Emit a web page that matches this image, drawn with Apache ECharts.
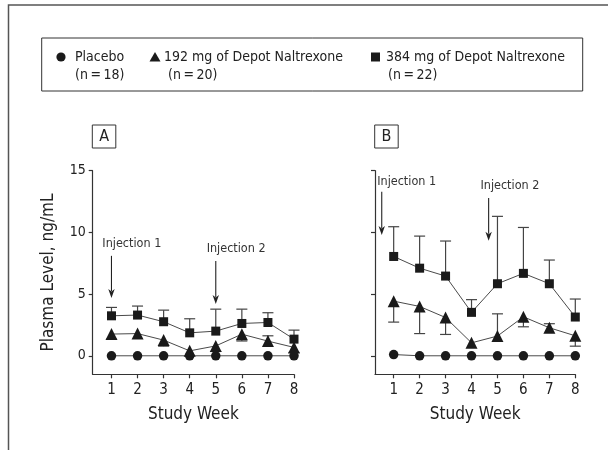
<!DOCTYPE html>
<html><head><meta charset="utf-8">
<script src="https://cdn.jsdelivr.net/npm/echarts@6/dist/echarts.min.js"></script>
<style>html,body{margin:0;padding:0;background:#fff}#c{width:608px;height:450px}</style>
</head><body><div id="c"></div>
<script>
const FONT = "'Liberation Sans Narrow','Arial Narrow','DejaVu Sans Condensed',sans-serif";
const weeks = [1, 2, 3, 4, 5, 6, 7, 8];
const yTicks = [0, 5, 10, 15];
const seriesNames = ['Placebo', '192 mg of Depot Naltrexone', '384 mg of Depot Naltrexone'];
const seriesN = ['(n\u2009=\u200918)', '(n\u2009=\u200920)', '(n\u2009=\u200922)'];
const panelLabels = ['A', 'B'];
// Panel A
const placeboA = [0, 0, 0, 0, 0, 0, 0, 0];
const lowA = [1.76, 1.8, 1.27, 0.4, 0.8, 1.75, 1.19, 0.68];
const lowErrEndA = [1.35, null, 0.78, null, 0.35, 1.2, 1.62, 0.27];
const highA = [3.24, 3.3, 2.76, 1.86, 2.0, 2.62, 2.7, 1.35];
const highErrEndA = [3.92, 4.03, 3.7, 3.0, 3.78, 3.78, 3.49, 2.08];
// Panel B
const placeboB = [0.1, 0, 0, 0, 0, 0, 0, 0];
const lowB = [4.43, 4.0, 3.1, 1.05, 1.6, 3.16, 2.27, 1.62];
const lowErrEndB = [2.73, 1.8, 1.73, null, 3.4, 2.35, 2.6, 0.78];
const highB = [8.05, 7.1, 6.46, 3.52, 5.84, 6.68, 5.84, 3.14];
const highErrEndB = [10.46, 9.7, 9.3, 4.55, 11.3, 10.4, 7.76, 4.6];
// Injection annotations: [arrow x, arrow top y, arrow tip y, label centre x, label centre y]
const injA = [[1, 8.1, 4.68, 1.78, 9.06], [5, 7.68, 4.19, 5.78, 8.65]];
const injB = [[0.54, 13.3, 9.79, 1.5, 14.11], [4.66, 12.79, 9.33, 5.48, 13.76]];
const injLabels = ['Injection 1', 'Injection 2'];

const symbols = ['circle', 'triangle', 'rect'];
const symSizes = [9.5, 12, 9];
const MARK = '#1a1a1a', LINE = '#4a4a4a', AX = '#333';

function pairs(ys) { return weeks.map((w, i) => [w, ys[i]]); }
function errData(ys, ends) {
  const out = [];
  weeks.forEach((w, i) => { if (ends[i] != null) out.push([w, ys[i], ends[i]]); });
  return out;
}
function errItem(params, api) {
  const x = api.value(0), m = api.value(1), e = api.value(2);
  const p0 = api.coord([x, m]), p1 = api.coord([x, e]);
  const hw = 5.5;
  const st = { stroke: '#444', lineWidth: 1.2 };
  return { type: 'group', children: [
    { type: 'line', shape: { x1: p0[0], y1: p0[1], x2: p1[0], y2: p1[1] }, style: st },
    { type: 'line', shape: { x1: p1[0] - hw, y1: p1[1], x2: p1[0] + hw, y2: p1[1] }, style: st }
  ]};
}
function injItem(params, api) {
  const x = api.value(0), y1 = api.value(1), y2 = api.value(2), lx = api.value(3), ly = api.value(4);
  const a = api.coord([x, y1]), b = api.coord([x, y2]), l = api.coord([lx, ly]);
  const hw = 3.2, hh = 9;
  return { type: 'group', children: [
    { type: 'line', shape: { x1: a[0], y1: a[1], x2: b[0], y2: b[1] - hh + 2 }, style: { stroke: '#222', lineWidth: 1.1 } },
    { type: 'polygon', shape: { points: [[b[0], b[1]], [b[0] - hw, b[1] - hh], [b[0], b[1] - hh + 2.5], [b[0] + hw, b[1] - hh]] }, style: { fill: '#222' } },
    { type: 'text', x: l[0], y: l[1], style: { text: injLabels[params.dataIndex], fontSize: 12.5, fontFamily: FONT, fill: '#333', align: 'center', verticalAlign: 'middle' } }
  ]};
}
function lineSeries(idx, k, ys) {
  return { type: 'line', xAxisIndex: idx, yAxisIndex: idx, data: pairs(ys), symbol: symbols[k],
    symbolSize: symSizes[k], showSymbol: true, silent: true, z: 5,
    lineStyle: { color: LINE, width: 1 }, itemStyle: { color: MARK, opacity: 1 } };
}
function errSeries(idx, ys, ends) {
  return { type: 'custom', xAxisIndex: idx, yAxisIndex: idx, data: errData(ys, ends),
    renderItem: errItem, silent: true, z: 3 };
}
function injSeries(idx, inj) {
  return { type: 'custom', xAxisIndex: idx, yAxisIndex: idx, data: inj, renderItem: injItem, silent: true, z: 6 };
}
const grids = [
  { left: 92.7, top: 170.7, width: 201.3, height: 203.6 },
  { left: 375, top: 170.7, width: 200.3, height: 203.6 }
];
const xAxes = grids.map((g, i) => ({ type: 'value', gridIndex: i, min: 0.28, max: 8,
  name: 'Study Week', nameLocation: 'middle', nameGap: 32,
  nameTextStyle: { fontSize: 17, color: '#222', fontFamily: FONT },
  axisLine: { show: true, onZero: false, lineStyle: { color: AX, width: 1.2 } },
  axisTick: { show: true, length: 4, customValues: weeks, lineStyle: { color: AX, width: 1.2 } },
  axisLabel: { customValues: weeks, fontSize: 15, color: '#222', margin: 8, fontFamily: FONT },
  splitLine: { show: false } }));
const yAxes = grids.map((g, i) => ({ type: 'value', gridIndex: i, min: -1.5, max: 15,
  name: i === 0 ? 'Plasma Level, ng/mL' : '', nameLocation: 'middle', nameGap: 36,
  nameTextStyle: { fontSize: 17, color: '#222', fontFamily: FONT },
  axisLine: { show: true, onZero: false, lineStyle: { color: AX, width: 1.2 } },
  axisTick: { show: true, length: 4, customValues: yTicks, lineStyle: { color: AX, width: 1.2 } },
  axisLabel: { show: i === 0, customValues: yTicks, fontSize: 14, color: '#222', margin: 7, fontFamily: FONT },
  splitLine: { show: false } }));

const series = [
  errSeries(0, lowA, lowErrEndA), errSeries(0, highA, highErrEndA),
  lineSeries(0, 0, placeboA), lineSeries(0, 1, lowA), lineSeries(0, 2, highA), injSeries(0, injA),
  errSeries(1, lowB, lowErrEndB), errSeries(1, highB, highErrEndB),
  lineSeries(1, 0, placeboB), lineSeries(1, 1, lowB), lineSeries(1, 2, highB), injSeries(1, injB)
];

// Legend & frame graphics
const legX = [[61, 75, 75], [155, 164, 168], [375.5, 386, 388]];
const graphic = [
  { type: 'polyline', shape: { points: [[8.5, 450], [8.5, 5], [608, 5]] }, style: { stroke: '#555', lineWidth: 1.5, fill: null } },
  { type: 'rect', shape: { x: 41.7, y: 38, width: 541, height: 53 }, style: { stroke: '#333', lineWidth: 1, fill: null } }
];
const legRow1 = 57, legRow2 = 75;
symbols.forEach((s, k) => {
  const cx = legX[k][0];
  if (s === 'circle') graphic.push({ type: 'circle', shape: { cx: cx, cy: legRow1, r: 4.6 }, style: { fill: MARK } });
  else if (s === 'triangle') graphic.push({ type: 'polygon', shape: { points: [[cx, legRow1 - 5], [cx - 5.5, legRow1 + 4.5], [cx + 5.5, legRow1 + 4.5]] }, style: { fill: MARK } });
  else graphic.push({ type: 'rect', shape: { x: cx - 4.5, y: legRow1 - 4.5, width: 9, height: 9 }, style: { fill: MARK } });
  graphic.push({ type: 'text', x: legX[k][1], y: legRow1, style: { text: seriesNames[k], fontSize: 14, fontFamily: FONT, fill: '#222', verticalAlign: 'middle' } });
  graphic.push({ type: 'text', x: legX[k][2], y: legRow2, style: { text: seriesN[k], fontSize: 14, fontFamily: FONT, fill: '#222', verticalAlign: 'middle' } });
});
const panelBox = [[92.3, 125], [374.7, 125]];
panelLabels.forEach((t, i) => {
  graphic.push({ type: 'rect', shape: { x: panelBox[i][0], y: panelBox[i][1], width: 23.5, height: 23 }, style: { stroke: '#333', lineWidth: 1, fill: '#fff' } });
  graphic.push({ type: 'text', x: panelBox[i][0] + 11.75, y: panelBox[i][1] + 12, style: { text: t, fontSize: 16, fontFamily: FONT, fill: '#222', align: 'center', verticalAlign: 'middle' } });
});

const chart = echarts.init(document.getElementById('c'), null, { renderer: 'canvas' });
chart.setOption({ animation: false, backgroundColor: '#fff', grid: grids, xAxis: xAxes, yAxis: yAxes, series: series, graphic: graphic });
</script></body></html>
